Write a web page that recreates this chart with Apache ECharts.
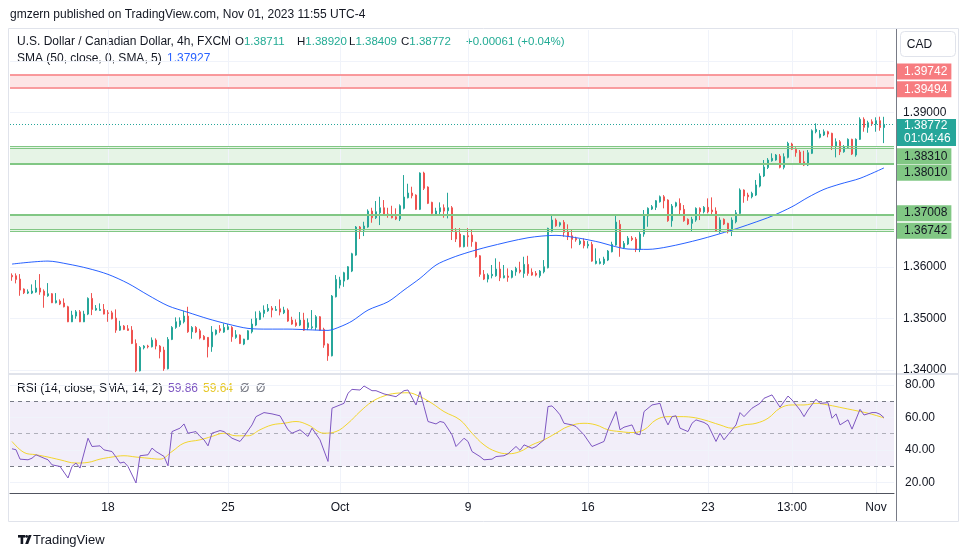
<!DOCTYPE html>
<html>
<head>
<meta charset="utf-8">
<script src="https://cdn.jsdelivr.net/npm/echarts@6/dist/echarts.min.js"></script>
<style>
  html, body { margin: 0; padding: 0; background: #fff; }
  #chart { width: 970px; height: 557px; }
</style>
</head>
<body>
<div id="chart"></div>
<script>
const FONT = '"Liberation Sans", Arial, sans-serif'

// 4h candles, [open, close, low, high], first bar Tue Sep 12 01:00 (UTC-4)
const candles = [
  [1.35838,1.35811,1.35733,1.35877],[1.35830,1.35760,1.35683,1.35877],[1.35766,1.35552,1.35442,1.35863],[1.35572,1.35500,1.35475,1.35585],
  [1.35494,1.35519,1.35475,1.35566],[1.35494,1.35533,1.35475,1.35663],[1.35514,1.35591,1.35500,1.35747],[1.35591,1.35514,1.35461,1.35863],
  [1.35533,1.35450,1.35209,1.35566],[1.35442,1.35481,1.35422,1.35688],[1.35481,1.35306,1.35300,1.35494],[1.35306,1.35345,1.35294,1.35494],
  [1.35339,1.35281,1.35261,1.35372],[1.35300,1.35228,1.35216,1.35391],[1.35228,1.34936,1.34930,1.35247],[1.34936,1.35066,1.34930,1.35150],
  [1.35047,1.35130,1.34995,1.35164],[1.35130,1.34936,1.34930,1.35164],[1.34936,1.35086,1.34930,1.35150],[1.35086,1.35391,1.35066,1.35411],
  [1.35391,1.35177,1.35066,1.35494],[1.35164,1.35197,1.35150,1.35261],[1.35158,1.35177,1.35150,1.35294],[1.35177,1.35086,1.35080,1.35281],
  [1.35111,1.35099,1.34936,1.35164],[1.35111,1.34995,1.34983,1.35150],[1.35008,1.34774,1.34722,1.35177],[1.34774,1.34852,1.34761,1.34956],
  [1.34852,1.34788,1.34774,1.34872],[1.34800,1.34769,1.34761,1.34872],[1.34774,1.34516,1.34503,1.34852],[1.34516,1.33984,1.33958,1.34594],
  [1.33984,1.34438,1.33972,1.34464],[1.34431,1.34464,1.34400,1.34483],[1.34464,1.34450,1.34419,1.34489],[1.34450,1.34580,1.34438,1.34633],
  [1.34580,1.34464,1.34400,1.34614],[1.34464,1.34353,1.34225,1.34483],[1.34386,1.34023,1.33984,1.34450],[1.34023,1.34594,1.34011,1.34639],
  [1.34594,1.34827,1.34580,1.34852],[1.34827,1.34936,1.34800,1.35022],[1.34878,1.34956,1.34839,1.35022],[1.34936,1.35047,1.34905,1.35150],
  [1.35047,1.34742,1.34722,1.35228],[1.34742,1.34827,1.34606,1.34852],[1.34827,1.34736,1.34717,1.34852],[1.34761,1.34620,1.34594,1.34800],
  [1.34653,1.34594,1.34580,1.34678],[1.34633,1.34450,1.34244,1.34639],[1.34450,1.34736,1.34353,1.34852],[1.34697,1.34774,1.34672,1.34788],
  [1.34800,1.34761,1.34722,1.34872],[1.34736,1.34827,1.34722,1.34905],[1.34788,1.34839,1.34774,1.34892],[1.34827,1.34645,1.34548,1.34852],
  [1.34633,1.34683,1.34606,1.34774],[1.34678,1.34516,1.34503,1.34690],[1.34503,1.34600,1.34483,1.34606],[1.34594,1.34761,1.34580,1.34774],
  [1.34742,1.34892,1.34710,1.34995],[1.34872,1.35002,1.34852,1.35138],[1.34983,1.35111,1.34969,1.35150],[1.35099,1.35164,1.35022,1.35255],
  [1.35150,1.35197,1.35130,1.35281],[1.35203,1.35164,1.35022,1.35242],[1.35158,1.35177,1.35150,1.35242],[1.35189,1.35125,1.35061,1.35372],
  [1.35111,1.35164,1.35086,1.35228],[1.35164,1.34950,1.34936,1.35197],[1.34969,1.34892,1.34878,1.35034],[1.34917,1.34866,1.34839,1.34983],
  [1.34872,1.34969,1.34852,1.35125],[1.34969,1.34774,1.34761,1.35111],[1.34827,1.34917,1.34774,1.35002],[1.34820,1.34839,1.34788,1.35164],
  [1.34827,1.35034,1.34774,1.35066],[1.35034,1.34774,1.34761,1.35047],[1.34788,1.34483,1.34431,1.34820],[1.34503,1.34275,1.34178,1.34516],
  [1.34275,1.35436,1.34264,1.35456],[1.35422,1.35760,1.35410,1.35844],[1.35649,1.35747,1.35585,1.35811],[1.35727,1.35889,1.35616,1.35908],
  [1.35766,1.36005,1.35747,1.36019],[1.35922,1.36258,1.35902,1.36277],[1.36233,1.36778,1.36219,1.36797],[1.36778,1.36713,1.36544,1.36797],
  [1.36719,1.36797,1.36602,1.36880],[1.36778,1.37088,1.36764,1.37121],[1.37088,1.36958,1.36861,1.37152],[1.36958,1.37075,1.36933,1.37283],
  [1.37055,1.37152,1.36816,1.37366],[1.37152,1.37024,1.36997,1.37302],[1.37030,1.37010,1.36958,1.37152],[1.37024,1.36958,1.36946,1.37191],
  [1.36977,1.36933,1.36913,1.37141],[1.36933,1.37191,1.36894,1.37218],[1.37141,1.37360,1.37121,1.37788],[1.37347,1.37438,1.37335,1.37619],
  [1.37438,1.37386,1.37335,1.37561],[1.37399,1.37121,1.37108,1.37413],[1.37121,1.37827,1.37108,1.37840],[1.37827,1.37530,1.37497,1.37852],
  [1.37555,1.37238,1.37224,1.37568],[1.37257,1.37043,1.37024,1.37269],[1.37010,1.37088,1.36997,1.37152],[1.37075,1.37152,1.36997,1.37257],
  [1.37152,1.37088,1.36958,1.37218],[1.37094,1.37152,1.36946,1.37444],[1.37152,1.36699,1.36525,1.37185],[1.36699,1.36544,1.36486,1.36758],
  [1.36642,1.36395,1.36383,1.36758],[1.36395,1.36608,1.36383,1.36622],[1.36608,1.36589,1.36395,1.36758],[1.36622,1.36492,1.36395,1.36720],
  [1.36480,1.36200,1.36181,1.36492],[1.36219,1.35858,1.35811,1.36233],[1.35858,1.35766,1.35747,1.35942],[1.35766,1.35844,1.35702,1.35877],
  [1.35831,1.35858,1.35780,1.36040],[1.35831,1.35961,1.35811,1.36169],[1.35961,1.35792,1.35727,1.36103],[1.35792,1.35831,1.35780,1.36040],
  [1.35825,1.35800,1.35714,1.35974],[1.35800,1.35922,1.35780,1.35942],[1.35908,1.35974,1.35831,1.36005],[1.35942,1.35908,1.35877,1.36103],
  [1.35877,1.36052,1.35792,1.36200],[1.36052,1.35877,1.35831,1.36219],[1.35897,1.35844,1.35831,1.35974],[1.35877,1.35844,1.35819,1.35922],
  [1.35831,1.35922,1.35792,1.35942],[1.35908,1.36005,1.35877,1.36136],[1.35986,1.36752,1.35974,1.36764],[1.36686,1.36913,1.36674,1.36997],
  [1.36913,1.36802,1.36783,1.36946],[1.36816,1.36861,1.36783,1.36880],[1.36869,1.36674,1.36589,1.36913],[1.36686,1.36589,1.36525,1.36830],
  [1.36608,1.36538,1.36363,1.36720],[1.36558,1.36530,1.36492,1.36589],[1.36453,1.36505,1.36427,1.36544],[1.36505,1.36414,1.36363,1.36558],
  [1.36414,1.36441,1.36363,1.36505],[1.36441,1.36116,1.36103,1.36492],[1.36071,1.36116,1.36052,1.36363],[1.36071,1.36103,1.36052,1.36169],
  [1.36071,1.36155,1.36040,1.36200],[1.36136,1.36311,1.36116,1.36330],[1.36297,1.36441,1.36285,1.36492],[1.36427,1.36874,1.36414,1.37024],
  [1.36830,1.36375,1.36200,1.36913],[1.36375,1.36460,1.36350,1.36505],[1.36447,1.36563,1.36427,1.36602],[1.36563,1.36534,1.36505,1.36602],
  [1.36544,1.36344,1.36291,1.36583],[1.36340,1.36641,1.36291,1.36680],[1.36641,1.37010,1.36589,1.37108],[1.36991,1.37141,1.36783,1.37160],
  [1.37127,1.37172,1.37108,1.37205],[1.37160,1.37288,1.37108,1.37302],[1.37269,1.37366,1.37253,1.37390],[1.37366,1.37288,1.37141,1.37399],
  [1.37302,1.36900,1.36880,1.37316],[1.36900,1.37185,1.36783,1.37224],[1.37185,1.37250,1.37160,1.37269],[1.37238,1.37108,1.37030,1.37335],
  [1.37121,1.36900,1.36880,1.37205],[1.36927,1.36836,1.36816,1.36946],[1.36849,1.36927,1.36686,1.36977],[1.36913,1.37141,1.36880,1.37160],
  [1.37141,1.37075,1.36913,1.37160],[1.37075,1.37160,1.37043,1.37185],[1.37160,1.37075,1.37043,1.37335],[1.37108,1.37075,1.37030,1.37354],
  [1.37088,1.36705,1.36686,1.37160],[1.36686,1.36913,1.36655,1.36966],[1.36927,1.36836,1.36816,1.36946],[1.36849,1.36686,1.36655,1.36861],
  [1.36719,1.36913,1.36602,1.36966],[1.36880,1.37055,1.36849,1.37108],[1.37043,1.37497,1.37030,1.37529],[1.37497,1.37380,1.37250,1.37510],
  [1.37399,1.37366,1.37288,1.37444],[1.37366,1.37432,1.37335,1.37464],[1.37399,1.37594,1.37380,1.37692],[1.37574,1.37769,1.37549,1.37821],
  [1.37769,1.37944,1.37749,1.38080],[1.37934,1.38080,1.37905,1.38118],[1.38066,1.38113,1.38047,1.38210],[1.38080,1.38177,1.38066,1.38196],
  [1.38157,1.37938,1.37918,1.38196],[1.37938,1.38144,1.37899,1.38210],[1.38132,1.38404,1.38113,1.38435],[1.38391,1.38288,1.38274,1.38416],
  [1.38288,1.38222,1.38144,1.38327],[1.38235,1.38016,1.38012,1.38274],[1.38047,1.37982,1.37963,1.38260],[1.37982,1.38222,1.37963,1.38274],
  [1.38210,1.38649,1.38196,1.38676],[1.38630,1.38676,1.38599,1.38793],[1.38521,1.38585,1.38501,1.38663],[1.38566,1.38630,1.38546,1.38676],
  [1.38630,1.38585,1.38521,1.38649],[1.38599,1.38352,1.38274,1.38610],[1.38352,1.38435,1.38132,1.38501],[1.38435,1.38241,1.38177,1.38468],
  [1.38241,1.38338,1.38222,1.38371],[1.38327,1.38482,1.38307,1.38501],[1.38482,1.38196,1.38177,1.38494],[1.38177,1.38482,1.38144,1.38501],
  [1.38482,1.38871,1.38469,1.38910],[1.38871,1.38715,1.38630,1.38910],[1.38715,1.38805,1.38610,1.38844],[1.38824,1.38779,1.38741,1.38871],
  [1.38779,1.38844,1.38630,1.38910],[1.38844,1.38711,1.38649,1.38922],[1.38711,1.38772,1.38409,1.38920]
]

// SMA(50) readings, [bar index, value]
const smaPoints = [
  [0,1.36058],[9,1.36116],[14,1.36058],[19,1.35974],[24,1.35858],[29,1.35683],[34,1.35456],[39,1.35247],
  [44,1.35119],[49,1.34995],[54,1.34891],[59,1.34808],[64,1.34794],[69,1.34794],[74,1.34781],[79,1.34769],
  [82,1.34839],[85,1.34950],[89,1.35164],[94,1.35325],[98,1.35554],[102,1.35780],[106,1.36039],[110,1.36180],
  [114,1.36285],[119,1.36394],[129,1.36569],[136,1.36616],[142,1.36558],[147,1.36480],[150,1.36414],[154,1.36350],
  [159,1.36344],[164,1.36394],[172,1.36538],[180,1.36719],[185,1.36849],[190,1.36991],[195,1.37172],[199,1.37354],
  [203,1.37510],[207,1.37613],[212,1.37724],[218,1.37927]
]

// RSI(14) readings, [bar index, value]
const rsiPoints = [
  [0,40.7],[1,40.1],[2,34.3],[4,33.9],[5,34.9],[6,37.0],[8,34.9],[9,33.9],[10,30.8],[12,29.8],[14,22.7],[15,29.8],
  [16,31.9],[17,28.8],[19,47.2],[20,42.1],[22,42.5],[23,40.0],[25,39.0],[26,35.6],[27,31.9],[28,32.5],[29,29.8],
  [31,19.6],[32,36.4],[34,37.0],[35,41.1],[36,39.0],[38,36.0],[39,30.2],[40,51.3],[42,53.4],[43,56.0],[44,50.3],
  [46,51.3],[47,48.3],[48,46.2],[49,42.5],[50,50.3],[52,51.9],[53,51.3],[55,47.2],[57,45.2],[58,48.3],[60,55.4],
  [61,60.5],[63,63.0],[65,62.2],[67,61.0],[69,52.4],[70,50.3],[72,52.4],[74,48.3],[75,53.4],[77,46.2],[79,32.9],
  [80,65.7],[81,66.7],[83,68.7],[84,74.9],[85,77.3],[87,76.9],[88,79.4],[90,76.5],[91,76.5],[93,74.5],[94,73.9],
  [96,72.8],[98,76.5],[99,76.9],[101,67.7],[102,75.9],[103,66.7],[104,57.5],[106,56.0],[107,57.5],[108,56.9],
  [110,49.3],[111,42.1],[113,47.2],[114,45.2],[115,39.0],[117,35.9],[118,33.9],[120,34.3],[121,35.9],[123,36.4],
  [124,37.6],[126,42.1],[127,39.7],[128,43.1],[130,41.0],[131,42.1],[133,46.2],[134,66.7],[135,67.1],[136,64.6],
  [137,61.6],[138,56.4],[140,55.4],[141,54.4],[143,49.3],[145,42.1],[146,43.1],[148,45.2],[149,52.4],[151,63.6],
  [152,52.4],[153,54.0],[155,55.4],[156,49.9],[157,49.3],[158,63.6],[160,67.7],[162,68.7],[163,60.5],[164,55.4],
  [165,60.5],[166,61.0],[167,53.4],[169,51.3],[170,56.4],[171,58.5],[173,56.9],[174,55.4],[176,45.2],[177,50.3],
  [178,46.2],[179,49.3],[181,55.4],[182,63.0],[183,60.5],[185,65.7],[187,68.7],[188,71.8],[190,73.9],[192,66.3],
  [194,73.2],[195,70.8],[197,64.6],[198,60.5],[199,64.6],[201,71.2],[202,68.7],[204,69.1],[205,59.5],[206,62.2],
  [207,55.4],[209,58.5],[210,52.8],[212,65.0],[213,61.5],[215,63.0],[216,63.0],[217,62.0],[218,59.86]
]

// RSI-based SMA(14) readings, [bar index, value]
const rsiMaPoints = [
  [0,45.2],[3,38.4],[6,37.0],[9,35.6],[12,33.9],[16,31.9],[19,32.3],[22,34.3],[25,35.6],[28,36.4],[31,35.6],
  [34,34.9],[37,34.3],[40,39.0],[43,44.2],[47,46.2],[50,48.3],[53,50.3],[56,48.7],[59,48.7],[62,52.4],[65,55.4],
  [68,56.4],[71,57.5],[74,55.4],[78,50.3],[81,51.3],[84,56.4],[87,63.6],[90,69.7],[93,73.2],[96,74.9],[99,75.2],
  [102,72.8],[105,68.7],[108,63.6],[112,58.5],[115,50.3],[118,43.1],[121,39.0],[124,37.6],[127,39.0],[130,43.1],
  [133,46.2],[136,50.3],[139,54.4],[143,56.4],[146,55.4],[149,52.4],[152,51.3],[155,50.7],[158,52.4],[161,58.5],
  [164,60.5],[167,60.5],[170,60.1],[173,58.5],[177,55.4],[180,53.4],[183,55.4],[186,56.4],[189,59.5],[192,65.7],
  [195,67.7],[198,67.7],[201,68.7],[204,67.7],[208,65.7],[211,64.2],[214,62.6],[217,60.5],[218,59.64]
]

const timeTicks = ['09-18 01:00', '09-25 01:00', '10-01 17:00', '10-09 01:00', '10-16 01:00', '10-23 01:00', '10-26 13:00', '11-01 01:00']
const timeTickText = ['18', '25', 'Oct', '9', '16', '23', '13:00', 'Nov']
const priceTicks = [1.34, 1.35, 1.36, 1.39]
const priceGrid = [1.34, 1.35, 1.36, 1.37, 1.38, 1.39, 1.40]
const rsiTicks = [20, 40, 60, 80]

const resistZone = [1.39742, 1.39494]
const supportUpper = [1.38341, 1.38310, 1.38010]
const supportLower = [1.37008, 1.36742, 1.36700]
const lastPrice = 1.38772
const countdown = '01:04:46'

const UP = '#26a69a'
const DOWN = '#ef5350'
const GRID = '#f0f3fa'
const TEXT = '#131722'
const ZONE_RED = '#f77c80'
const ZONE_GREEN = '#81c784'

// bar times: 4h bars, market closed Fri 17:00 -> Sun 17:00
const pad = n => String(n).padStart(2, '0')
const barTimes = []
let t = Date.UTC(2023, 8, 12, 1)
while (barTimes.length < candles.length) {
  const d = new Date(t)
  const wd = d.getUTCDay(), h = d.getUTCHours()
  const closed = wd === 6 || (wd === 5 && h >= 17) || (wd === 0 && h < 17)
  if (!closed) barTimes.push(pad(d.getUTCMonth() + 1) + '-' + pad(d.getUTCDate()) + ' ' + pad(h) + ':00')
  t += 4 * 3600e3
}
const categories = barTimes.concat(['pad1', 'pad2'])
const tickLabelOf = new Map(timeTicks.map((v, i) => [v, timeTickText[i]]))

// price-scale tag; nudge moves the tag up/down (px) like TradingView does to avoid overlaps
function tag(text, bg, fg, nudge) {
  const s = Math.abs(nudge || 0)
  const body = '{p|' + text + '}'
  const formatter = !s ? body : (nudge > 0 ? '{s| }\n' + body : body + '\n{s| }')
  return {
    show: true, position: 'end', distance: 3, formatter,
    rich: {
      s: { lineHeight: 2 * s, fontSize: 1 },
      p: { color: fg, backgroundColor: bg, padding: [2, 4, 2, 7], lineHeight: 13, fontSize: 12, fontFamily: FONT }
    }
  }
}
function zoneLine(v, color, width, label) {
  return { yAxis: v, lineStyle: { color, width, type: 'solid' }, label: label || { show: false } }
}

const gridLinesMain = priceGrid.map(v => ({ yAxis: v }))
  .concat(timeTicks.map(v => ({ xAxis: v })))
const gridLinesRsi = rsiTicks.map(v => ({ yAxis: v }))
  .concat(timeTicks.map(v => ({ xAxis: v })))

const chart = echarts.init(document.getElementById('chart'))

const HEAD = '11.5px ' + FONT
const option = {
  animation: false,
  backgroundColor: '#ffffff',
  textStyle: { fontFamily: FONT },
  grid: [
    { left: 10, top: 30, width: 884, height: 343 },
    { left: 10, top: 375, width: 884, height: 118 }
  ],
  xAxis: [
    {
      type: 'category', gridIndex: 0, data: categories, boundaryGap: true,
      axisLine: { show: false }, axisTick: { show: false }, axisLabel: { show: false }, splitLine: { show: false }
    },
    {
      type: 'category', gridIndex: 1, data: categories, boundaryGap: true,
      axisLine: { show: true, onZero: false, lineStyle: { color: '#50535e', width: 1 } },
      axisTick: { show: false },
      splitLine: { show: false },
      axisLabel: {
        interval: (i, v) => tickLabelOf.has(v),
        formatter: v => tickLabelOf.get(v) || '',
        color: TEXT, fontSize: 12, margin: 9, fontFamily: FONT
      }
    }
  ],
  yAxis: [
    {
      type: 'value', gridIndex: 0, position: 'right', min: 1.33941, max: 1.40607,
      axisLine: { show: false }, axisTick: { show: false }, splitLine: { show: false },
      axisLabel: {
        customValues: priceTicks, formatter: v => v.toFixed(5),
        color: TEXT, fontSize: 12, align: 'left', margin: 9, fontFamily: FONT
      }
    },
    {
      type: 'value', gridIndex: 1, position: 'right', min: 13.44, max: 86.16,
      axisLine: { show: false }, axisTick: { show: false }, splitLine: { show: false },
      axisLabel: {
        customValues: rsiTicks, formatter: v => v.toFixed(2),
        color: TEXT, fontSize: 12, align: 'left', margin: 11, fontFamily: FONT
      }
    }
  ],
  series: [
    {
      name: 'USDCAD', type: 'candlestick', xAxisIndex: 0, yAxisIndex: 0,
      data: candles, barWidth: 2, clip: false,
      itemStyle: { color: UP, color0: DOWN, borderColor: UP, borderColor0: DOWN, borderWidth: 1 },
      markArea: {
        silent: true,
        data: [
          [{ yAxis: resistZone[0], itemStyle: { color: 'rgba(247,124,128,0.2)' } }, { yAxis: resistZone[1] }],
          [{ yAxis: supportUpper[0], itemStyle: { color: 'rgba(129,199,132,0.2)' } }, { yAxis: supportUpper[2] }],
          [{ yAxis: supportLower[0], itemStyle: { color: 'rgba(129,199,132,0.2)' } }, { yAxis: supportLower[2] }]
        ]
      },
      markLine: {
        silent: true, symbol: 'none', precision: 5,
        data: [
          zoneLine(resistZone[0], ZONE_RED, 1.5, tag(resistZone[0].toFixed(5), ZONE_RED, '#ffffff', -3)),
          zoneLine(resistZone[1], ZONE_RED, 1.5, tag(resistZone[1].toFixed(5), ZONE_RED, '#ffffff', 2)),
          zoneLine(supportUpper[0], ZONE_GREEN, 1),
          zoneLine(supportUpper[1], ZONE_GREEN, 1, tag(supportUpper[1].toFixed(5), ZONE_GREEN, TEXT, 8)),
          zoneLine(supportUpper[2], ZONE_GREEN, 2, tag(supportUpper[2].toFixed(5), ZONE_GREEN, TEXT, 9)),
          zoneLine(supportLower[0], ZONE_GREEN, 2, tag(supportLower[0].toFixed(5), ZONE_GREEN, TEXT, -2)),
          zoneLine(supportLower[1], ZONE_GREEN, 1, tag(supportLower[1].toFixed(5), ZONE_GREEN, TEXT, 2)),
          zoneLine(supportLower[2], ZONE_GREEN, 1),
          {
            yAxis: lastPrice,
            lineStyle: { color: UP, width: 1, type: [1, 2] },
            label: {
              show: true, position: 'end', distance: 3,
              formatter: '{s| }\n{p|' + lastPrice.toFixed(5) + '}\n{c|' + countdown + '}',
              rich: {
                s: { lineHeight: 16, fontSize: 1 },
                p: { lineHeight: 13, fontSize: 12, color: '#fff', backgroundColor: UP, padding: [1, 5, 1, 7], width: 47, fontFamily: FONT },
                c: { lineHeight: 13, fontSize: 12, color: '#fff', backgroundColor: UP, padding: [1, 5, 1, 7], width: 47, fontFamily: FONT }
              }
            }
          }
        ]
      }
    },
    {
      name: 'SMA', type: 'line', xAxisIndex: 0, yAxisIndex: 0, z: 3,
      data: smaPoints, showSymbol: false, smooth: 0.3,
      lineStyle: { color: '#2962ff', width: 1 },
      markLine: {
        silent: true, symbol: 'none', z: 1, label: { show: false },
        lineStyle: { color: GRID, width: 1, type: 'solid' },
        data: gridLinesMain
      }
    },
    {
      name: 'RSI', type: 'line', xAxisIndex: 1, yAxisIndex: 1, z: 3,
      data: rsiPoints, showSymbol: false,
      lineStyle: { color: '#7e57c2', width: 1 },
      markArea: {
        silent: true,
        itemStyle: { color: 'rgba(126,87,194,0.1)' },
        data: [[{ yAxis: 30 }, { yAxis: 70 }]]
      },
      markLine: {
        silent: true, symbol: 'none', z: 1, label: { show: false },
        lineStyle: { color: GRID, width: 1, type: 'solid' },
        data: gridLinesRsi
      }
    },
    {
      name: 'RSI MA', type: 'line', xAxisIndex: 1, yAxisIndex: 1, z: 2,
      data: rsiMaPoints, showSymbol: false, smooth: 0.4,
      lineStyle: { color: '#f2d62e', width: 1 },
      markLine: {
        silent: true, symbol: 'none', z: 1, label: { show: false },
        data: [
          { yAxis: 70, lineStyle: { color: '#787b86', width: 1, type: [4, 4] } },
          { yAxis: 50, lineStyle: { color: 'rgba(120,123,134,0.55)', width: 1, type: [4, 4] } },
          { yAxis: 30, lineStyle: { color: '#787b86', width: 1, type: [4, 4] } }
        ]
      }
    }
  ],
  graphic: [
    { type: 'rect', silent: true, shape: { x: 8.5, y: 28.5, width: 950, height: 493 }, style: { fill: 'none', stroke: '#e0e3eb', lineWidth: 1 } },
    { type: 'line', silent: true, shape: { x1: 9, y1: 374, x2: 958, y2: 374 }, style: { stroke: '#e0e3eb', lineWidth: 2 } },
    { type: 'line', silent: true, shape: { x1: 896.5, y1: 29, x2: 896.5, y2: 521 }, style: { stroke: '#787b86', lineWidth: 1 } },
    { type: 'rect', silent: true, shape: { x: 900.5, y: 31.5, width: 55, height: 25, r: 4 }, style: { fill: '#fff', stroke: '#e0e3eb', lineWidth: 1 } },
    { type: 'text', silent: true, x: 919.5, y: 45, style: { text: 'CAD', fill: TEXT, font: '12px ' + FONT, align: 'center', verticalAlign: 'middle' } },
    { type: 'text', silent: true, x: 10, y: 15, style: { text: 'gmzern published on TradingView.com, Nov 01, 2023 11:55 UTC-4', fill: TEXT, font: '12px ' + FONT, verticalAlign: 'middle' } },
    { type: 'text', silent: true, x: 17, y: 42, style: { text: 'U.S. Dollar / Canadian Dollar, 4h, FXCM', fill: TEXT, font: '12px ' + FONT, verticalAlign: 'middle' } },
    ...[['O', '1.38711', 235], ['H', '1.38920', 297], ['L', '1.38409', 349], ['C', '1.38772', 401]].map(([k, v, x]) => ({
      type: 'text', silent: true, x, y: 42,
      style: {
        text: '{k|' + k + '}{v|' + v + '}', font: HEAD, verticalAlign: 'middle',
        rich: { k: { fill: TEXT, font: HEAD }, v: { fill: '#22ab94', font: HEAD } }
      }
    })),
    { type: 'text', silent: true, x: 466, y: 42, style: { text: '+0.00061 (+0.04%)', fill: '#22ab94', font: HEAD, verticalAlign: 'middle' } },
    { type: 'text', silent: true, x: 17, y: 59, style: { text: 'SMA (50, close, 0, SMA, 5)', fill: TEXT, font: '12px ' + FONT, verticalAlign: 'middle' } },
    { type: 'text', silent: true, x: 167, y: 59, style: { text: '1.37927', fill: '#2962ff', font: '12px ' + FONT, verticalAlign: 'middle' } },
    { type: 'text', silent: true, x: 17, y: 389, style: { text: 'RSI (14, close, SMA, 14, 2)', fill: TEXT, font: '12px ' + FONT, verticalAlign: 'middle' } },
    { type: 'text', silent: true, x: 168, y: 389, style: { text: '59.86', fill: '#7e57c2', font: '12px ' + FONT, verticalAlign: 'middle' } },
    { type: 'text', silent: true, x: 203, y: 389, style: { text: '59.64', fill: '#e6c829', font: '12px ' + FONT, verticalAlign: 'middle' } },
    { type: 'text', silent: true, x: 240, y: 389, style: { text: 'Ø  Ø', fill: '#787b86', font: '12px ' + FONT, verticalAlign: 'middle' } },
    // TradingView logo
    { type: 'rect', silent: true, shape: { x: 18, y: 535, width: 7, height: 2.6 }, style: { fill: TEXT } },
    { type: 'rect', silent: true, shape: { x: 20.6, y: 535, width: 2.6, height: 9 }, style: { fill: TEXT } },
    { type: 'circle', silent: true, shape: { cx: 26.6, cy: 536.4, r: 1.4 }, style: { fill: TEXT } },
    { type: 'polygon', silent: true, shape: { points: [[28.6, 535], [31.6, 535], [28.2, 544], [25.2, 544]] }, style: { fill: TEXT } },
    { type: 'text', silent: true, x: 33, y: 540, style: { text: 'TradingView', fill: TEXT, font: '13px ' + FONT, verticalAlign: 'middle' } }
  ]
}

chart.setOption(option)
</script>
</body>
</html>
